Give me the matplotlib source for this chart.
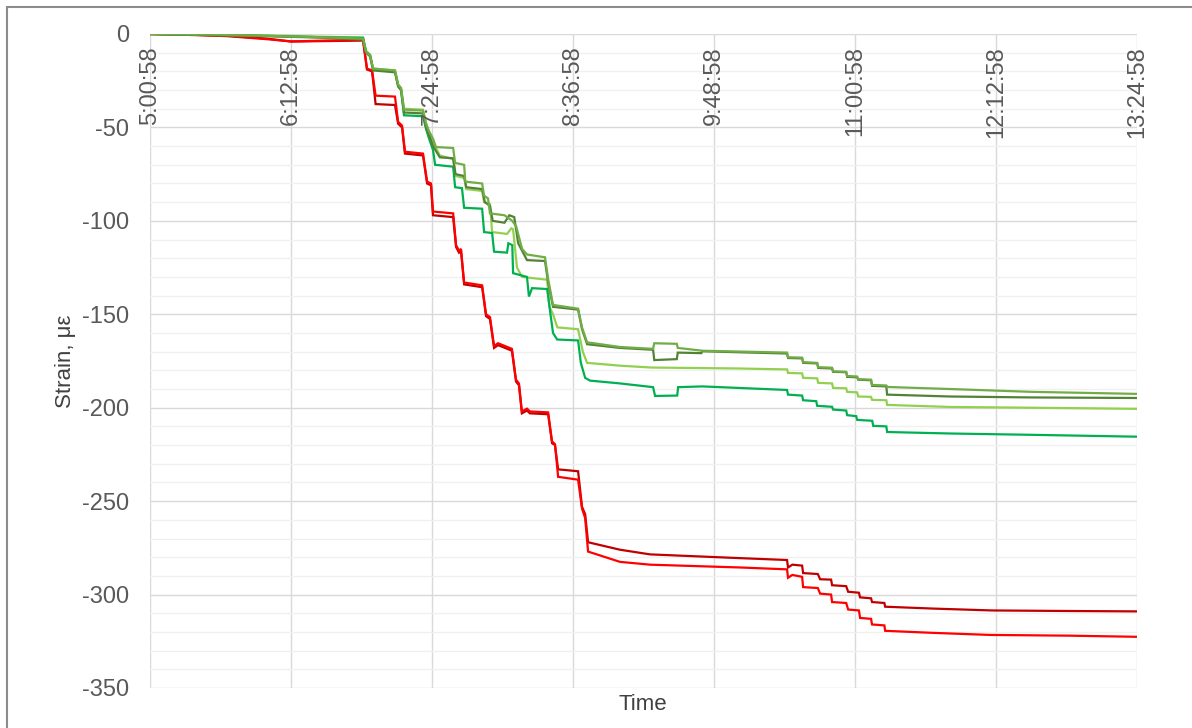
import matplotlib
matplotlib.use("Agg")
import matplotlib.pyplot as plt
from matplotlib.patches import Rectangle

plt.rcParams['font.family'] = ['Liberation Sans', 'DejaVu Sans']
plt.rcParams['axes.unicode_minus'] = False

# elapsed minutes from 5:00:58
x_ticks = [0, 72, 144, 216, 288, 360, 432, 504]
x_labels = ["5:00:58", "6:12:58", "7:24:58", "8:36:58", "9:48:58", "11:00:58", "12:12:58", "13:24:58"]
y_ticks = [0, -50, -100, -150, -200, -250, -300, -350]

red_dark_t = [0, 20, 40, 60, 72, 90, 108.8, 110.8, 113.4, 115.2, 125.1, 126.7, 128.7, 130.2, 139.4, 141.5, 143.5, 144.5,
              154.8, 156.3, 157.8, 158.8, 160.4, 169.6, 171.6, 173.6, 175.7, 177.7, 181.3, 184.8, 186.9, 188.4, 189.9,
              192.5, 194, 203.3, 205.3, 206.8, 208.4, 218.6, 220.6, 222.2, 223.7, 240, 255.4, 301.3, 325.3,
              325.8, 328, 333, 333.5, 341, 342.2, 347.8, 348.3, 355.5, 356.5, 362, 362.6, 368.2, 368.7, 375, 375.4,
              400, 430, 470, 504]
red_dark_v = [0, -0.5, -1, -2.5, -4, -3.8, -3.5, -19, -20, -37.5, -38, -48, -50, -64, -65, -80, -81, -97,
              -98, -114, -117, -116, -134, -135.5, -151, -152.5, -168, -166.5, -168, -169.5, -186, -188, -203,
              -201.5, -203, -203.5, -219, -220, -233, -234, -253, -257, -272, -276, -278.5, -280.5, -281.5,
              -285.5, -284, -284.5, -288.5, -289, -291.8, -292, -295, -295.5, -298.5, -299, -301.5, -302, -304, -304.5, -306.5,
              -307.5, -308.5, -308.8, -309]

red_bright_t = [0, 20, 40, 60, 72, 90, 108.8, 110.8, 113.4, 115.2, 125.1, 126.7, 128.7, 130.2, 139.4, 141.5, 143.5, 144.5,
                154.8, 156.3, 157.8, 158.8, 160.4, 169.6, 171.6, 173.6, 175.7, 177.7, 181.3, 184.8, 186.9, 188.4, 189.9,
                192.5, 194, 203.3, 205.3, 206.8, 208.4, 218.6, 220.6, 222.2, 223.7, 240, 255.4, 301.3, 325.3,
                325.8, 328, 333, 333.5, 341, 342.2, 347.8, 348.3, 355.5, 356.5, 362, 362.6, 368.2, 368.7, 375, 375.4,
                400, 429, 470, 504]
red_bright_v = [0, -0.3, -1.2, -2.8, -4, -3.5, -3.2, -18.5, -19.5, -33, -33.5, -47, -49, -63, -64, -79, -80, -95,
                -96, -113, -116, -115, -133, -134.5, -150, -151.5, -167, -165.5, -167, -168.5, -185, -187, -202,
                -200.5, -202, -202.5, -218, -219.5, -237, -238.5, -254, -259, -277, -282.5, -284, -285.5, -286.5,
                -291, -289.5, -290.5, -296, -296.5, -299.5, -300, -304, -304.5, -308, -308.5, -312.5, -313, -316, -316.5, -319.4,
                -320.5, -321.6, -322, -322.6]

olive_t = [0, 30, 60, 90, 108.8, 110.3, 112.4, 113.9, 125.1, 126.7, 128.2, 129.7, 139.4, 141, 142.5, 144.5, 148,
           154.8, 156, 160.4, 161.5, 169.6, 171, 173.6, 175, 181, 183.5, 186, 188, 192.5, 201.7, 203.3, 205.8,
           218.6, 220.6, 223.2, 240, 256.9, 257.5, 269, 269.5, 281.5, 282, 325.3,
           325.8, 333, 333.5, 340.7, 341.2, 348.3, 348.8, 355.5, 356, 361.1, 361.6, 368.2, 368.7, 376, 376.4,
           408.6, 450, 504]
olive_v = [0, -0.5, -1.2, -2, -3, -10, -12, -19.5, -20.5, -28, -30, -42, -42.5, -50, -54, -60, -66,
           -66.5, -75, -76, -82, -83, -90, -92, -100, -101, -97, -98, -112, -121, -121.5, -133, -146,
           -147.5, -158, -166, -168, -169, -174.5, -174, -170.5, -170.8, -169.8, -171,
           -173.4, -173.6, -176, -176.3, -178.7, -179, -180.8, -181, -183.5, -183.7, -185, -185.3, -188.3, -188.6, -193,
           -194, -194.5, -194.8]

medium_t = [0, 30, 60, 90, 108.8, 110.3, 112.4, 113.9, 125.1, 126.7, 128.2, 129.7, 139.4, 141, 142.5, 144.5, 146,
            154.8, 155.8, 160.4, 161, 169.6, 170.6, 172.6, 173.6, 181, 185, 187, 190, 192.5, 201.7, 203.3, 205.8,
            218.6, 220.6, 223.2, 240, 256.9, 257.5, 269, 269.5, 282, 325.3,
            325.8, 333, 333.5, 340.7, 341.2, 348.3, 348.8, 355.5, 356, 361.1, 361.6, 368.2, 368.7, 376, 376.4,
            408.6, 450, 504]
medium_v = [0, -0.3, -1, -1.8, -2.5, -9.5, -11.5, -18.5, -19.5, -27, -29, -40.5, -41, -48, -52, -56, -60.5,
            -61, -69, -70, -79, -80, -86.5, -88, -96, -97, -100, -103, -115, -118, -119.5, -131, -145,
            -147, -157, -165, -167.5, -168.5, -165.5, -165.8, -168, -169.5, -170.5,
            -173, -173.2, -175.6, -176, -178.3, -178.6, -180.5, -180.8, -183, -183.3, -184.7, -185, -187.8, -188.1, -188.9,
            -190, -191.5, -192.6]

light_t = [0, 30, 60, 90, 108.8, 110.3, 112.4, 113.9, 125.1, 126.7, 128.2, 129.7, 139.4, 141, 142.5, 144.5, 148,
           154.8, 156, 160.4, 161.5, 169.6, 170.6, 173.6, 174.7, 182.3, 184.5, 185.4, 187.4, 190, 202.8, 204, 205.8,
           208, 218.6, 221, 223.2, 240, 256, 300, 325.3,
           325.8, 333, 333.5, 340.7, 341.2, 348.3, 348.8, 355.5, 356, 361.1, 361.6, 368.2, 368.7, 376, 376.4,
           408.6, 450, 504]
light_v = [0, -0.3, -0.8, -1.5, -2, -9, -11, -18.5, -19.5, -27, -29, -40, -40.5, -48, -53, -58, -65,
           -67, -76, -77, -83, -84, -90, -91, -106, -107, -104, -104.5, -125, -130, -131.5, -146, -150,
           -157, -158, -170, -176, -177.5, -178.5, -179, -179.5,
           -181.4, -181.6, -184, -184.3, -186.7, -187, -189.4, -189.6, -191.5, -191.8, -194, -194.2, -195.8, -196, -198.5,
           -199.6, -200, -200.6]

emerald_t = [0, 30, 60, 90, 108.8, 110.3, 112.4, 113.9, 125.1, 126.7, 128.2, 129.7, 139.4, 141, 142.5, 144.5, 145.6,
             154.8, 155.8, 159.3, 160.4, 169.6, 170.6, 174.7, 175.7, 182.3, 183, 185, 185.4, 192.5, 193.5, 195.1,
             202.8, 204.5, 205.8, 207.9, 218.6, 220, 222.2, 224.7, 240, 256.9, 257.9, 269.2, 269.7, 282, 325.3,
             325.8, 333, 333.5, 340.2, 340.7, 348.3, 348.8, 355.5, 356, 360.6, 361.1, 368.8, 369.3, 376, 376.4,
             408.6, 450, 504]
emerald_v = [0, -0.5, -1, -1.8, -2, -9.5, -11.5, -19, -20, -28, -30, -43.5, -44, -51, -56, -62, -70,
             -71, -82, -82.5, -93, -93.5, -106, -106.5, -116.5, -117, -112, -113, -128, -130, -140.5, -136,
             -136.5, -150, -160, -163.5, -164, -176, -184, -185.5, -187, -189, -193.7, -193.5, -189, -188.6, -190.5,
             -193, -193.5, -196, -196.5, -199, -199.5, -201, -201.5, -204, -204.5, -206.5, -207, -209.7, -210, -213,
             -213.8, -214.5, -215.5]

series = [
    (red_dark_t, red_dark_v, "#C00000"),
    (red_bright_t, red_bright_v, "#FF0000"),
    (light_t, light_v, "#92D050"),
    (emerald_t, emerald_v, "#00B050"),
    (olive_t, olive_v, "#548235"),
    (medium_t, medium_v, "#70AD47"),
]

W, H = 1192, 728
fig = plt.figure(figsize=(W / 100, H / 100), dpi=100)
ax = fig.add_axes([150 / W, 1 - 688 / H, (1137 - 150) / W, (688 - 34) / H])

for t, v, c in series:
    ax.plot(t, v, color=c, lw=1.6, solid_joinstyle='miter')

ax.set_xlim(0, 504)
ax.set_ylim(-350, 0)
ax.set_yticks(y_ticks)
ax.set_yticklabels([str(v) for v in y_ticks])
ax.set_yticks(list(range(-340, 0, 10)), minor=True)
ax.set_xticks(x_ticks)
ax.tick_params(axis='x', which='both', length=0, labelbottom=False)
ax.tick_params(axis='y', which='both', length=0, pad=15, labelsize=17, labelcolor='#595959')
ax.grid(True, which='major', axis='both', color='#d9d9d9', lw=1.0)
ax.grid(True, which='minor', axis='y', color='#f0f0f0', lw=1.0)
ax.set_axisbelow(True)
for s in ax.spines.values():
    s.set_visible(False)

for xt, lab in zip(x_ticks, x_labels):
    ax.text(xt, 1 - 12 / 654, lab, transform=ax.get_xaxis_transform(), rotation=90,
            ha='center', va='top', fontsize=17, color='#595959')

fig.text(66 / W, 1 - 361 / H, "Strain, με", rotation=90, ha='center', va='center',
         fontsize=16, color='#404040')
fig.text(643 / W, 1 - 705 / H, "Time", ha='center', va='center', fontsize=16, color='#404040')

fig.patches.append(Rectangle((7 / W, -0.05), 1.1, 1 - 7 / H + 0.05, transform=fig.transFigure,
                             fill=False, edgecolor='#8c8c8c', lw=1.5))

fig.savefig("out.png", dpi=100)
